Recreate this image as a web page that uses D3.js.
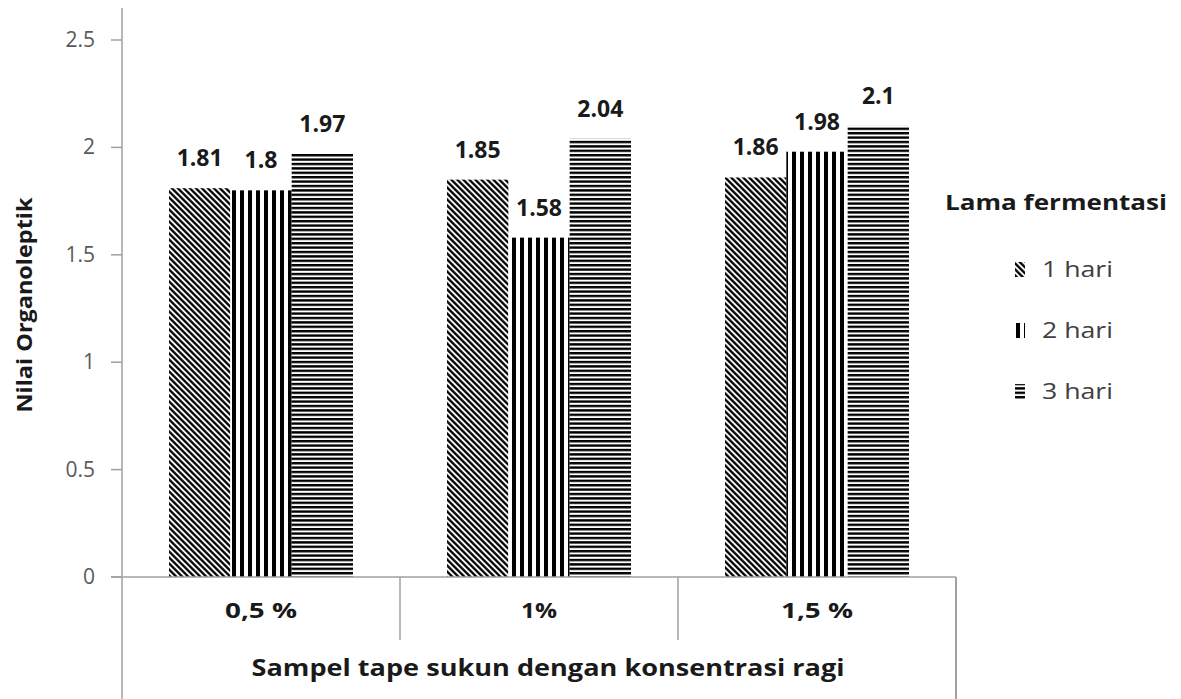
<!DOCTYPE html>
<html><head><meta charset="utf-8">
<script src="https://cdn.jsdelivr.net/npm/d3@7"></script>
<style>body{margin:0;background:#fff}svg{display:block}</style>
</head><body>
<svg id="c" width="1181" height="699"></svg>
<script>
const categories = ["0,5 %", "1%", "1,5 %"];
const seriesNames = ["1 hari", "2 hari", "3 hari"];
const hari1 = [1.81, 1.85, 1.86];
const hari2 = [1.8, 1.58, 1.98];
const hari3 = [1.97, 2.04, 2.1];
const yTicks = [0, 0.5, 1, 1.5, 2, 2.5];
const series = [hari1, hari2, hari3];

const svg = d3.select("#c");
const font = "'Open Sans', sans-serif";
const plotL = 122, plotR = 956, plotT = 40, plotB = 577;
const y = d3.scaleLinear().domain([0, 2.5]).range([plotB, plotT]);
const x0 = d3.scaleBand().domain(categories).range([plotL, plotR]).paddingInner(0).paddingOuter(0);
const groupW = 184;
const x1 = d3.scaleBand().domain(seriesNames).range([0, groupW]);

const defs = svg.append("defs");
// diagonal "\"
const p1 = defs.append("pattern").attr("id","p0").attr("patternUnits","userSpaceOnUse")
  .attr("width",4.243).attr("height",4.243).attr("patternTransform","rotate(-45)");
p1.append("rect").attr("width",4.243).attr("height",4.243).attr("fill","#fff");
p1.append("rect").attr("width",2.3).attr("height",4.243).attr("fill","#000");
// vertical
const p2 = defs.append("pattern").attr("id","p1").attr("patternUnits","userSpaceOnUse")
  .attr("width",8).attr("height",8);
p2.append("rect").attr("width",8).attr("height",8).attr("fill","#fff");
p2.append("rect").attr("width",4).attr("height",8).attr("fill","#000");
// horizontal
const p3 = defs.append("pattern").attr("id","p2").attr("patternUnits","userSpaceOnUse")
  .attr("width",8).attr("height",4.4);
p3.append("rect").attr("width",8).attr("height",4.4).attr("fill","#fff");
p3.append("rect").attr("width",8).attr("height",2.4).attr("fill","#000");

// bars
categories.forEach((c, ci) => {
  const gx = x0(c) + (x0.bandwidth() - groupW) / 2;
  series.forEach((s, si) => {
    const bx = gx + x1(seriesNames[si]);
    svg.append("rect").attr("x", bx).attr("y", y(s[ci]))
      .attr("width", x1.bandwidth()).attr("height", y(0) - y(s[ci]))
      .attr("fill", `url(#p${si})`);
    svg.append("text").attr("x", bx + x1.bandwidth()/2).attr("y", y(s[ci]) - 22)
      .attr("text-anchor","middle").attr("font-family",font).attr("font-weight","bold")
      .attr("font-size",23).attr("fill","#1a1a1a").text(s[ci]);
  });
});

// y axis
const axisColor = "#a0a0a0";
svg.append("line").attr("x1",plotL).attr("x2",plotL).attr("y1",8).attr("y2",699)
  .attr("stroke",axisColor).attr("stroke-width",1.5);
yTicks.forEach(t => {
  svg.append("line").attr("x1",111).attr("x2",plotL).attr("y1",y(t)).attr("y2",y(t))
    .attr("stroke",axisColor).attr("stroke-width",1.5);
  svg.append("text").attr("x",95).attr("y",y(t)+7).attr("text-anchor","end")
    .attr("font-family",font).attr("font-size",21).attr("fill","#595959").text(t);
});
// x axis
svg.append("line").attr("x1",111).attr("x2",plotR).attr("y1",plotB).attr("y2",plotB)
  .attr("stroke",axisColor).attr("stroke-width",1.5);
svg.append("line").attr("x1",plotR).attr("x2",plotR).attr("y1",plotB).attr("y2",699)
  .attr("stroke",axisColor).attr("stroke-width",2);
const catWidths = [72, 36, 72];
categories.forEach((c, ci) => {
  if (ci > 0) svg.append("line").attr("x1",x0(c)).attr("x2",x0(c)).attr("y1",plotB).attr("y2",640)
    .attr("stroke",axisColor).attr("stroke-width",1.5);
  svg.append("text").attr("x",x0(c)+x0.bandwidth()/2).attr("y",618).attr("text-anchor","middle")
    .attr("font-family",font).attr("font-weight","bold").attr("font-size",22).attr("fill","#1a1a1a")
    .attr("textLength",catWidths[ci]).attr("lengthAdjust","spacingAndGlyphs").text(c);
});
svg.append("text").attr("x",548).attr("y",676).attr("text-anchor","middle")
  .attr("font-family",font).attr("font-weight","bold").attr("font-size",23).attr("fill","#1a1a1a")
  .attr("textLength",593).attr("lengthAdjust","spacingAndGlyphs")
  .text("Sampel tape sukun dengan konsentrasi ragi");
svg.append("text").attr("transform","translate(32,305) rotate(-90)").attr("text-anchor","middle")
  .attr("font-family",font).attr("font-weight","bold").attr("font-size",21).attr("fill","#1a1a1a")
  .attr("textLength",215).attr("lengthAdjust","spacingAndGlyphs")
  .text("Nilai Organoleptik");

// legend
svg.append("text").attr("x",945).attr("y",210).attr("font-family",font).attr("font-weight","bold")
  .attr("font-size",22).attr("fill","#1a1a1a")
  .attr("textLength",222).attr("lengthAdjust","spacingAndGlyphs").text("Lama fermentasi");
seriesNames.forEach((n, i) => {
  const ly = 277 + i * 61;
  svg.append("rect").attr("x",1015).attr("y",ly-15).attr("width",10).attr("height",15)
    .attr("fill",`url(#p${i})`);
  svg.append("text").attr("x",1042).attr("y",ly).attr("font-family",font).attr("font-size",22)
    .attr("fill","#404040").attr("textLength",71).attr("lengthAdjust","spacingAndGlyphs").text(n);
});
</script>
</body></html>
